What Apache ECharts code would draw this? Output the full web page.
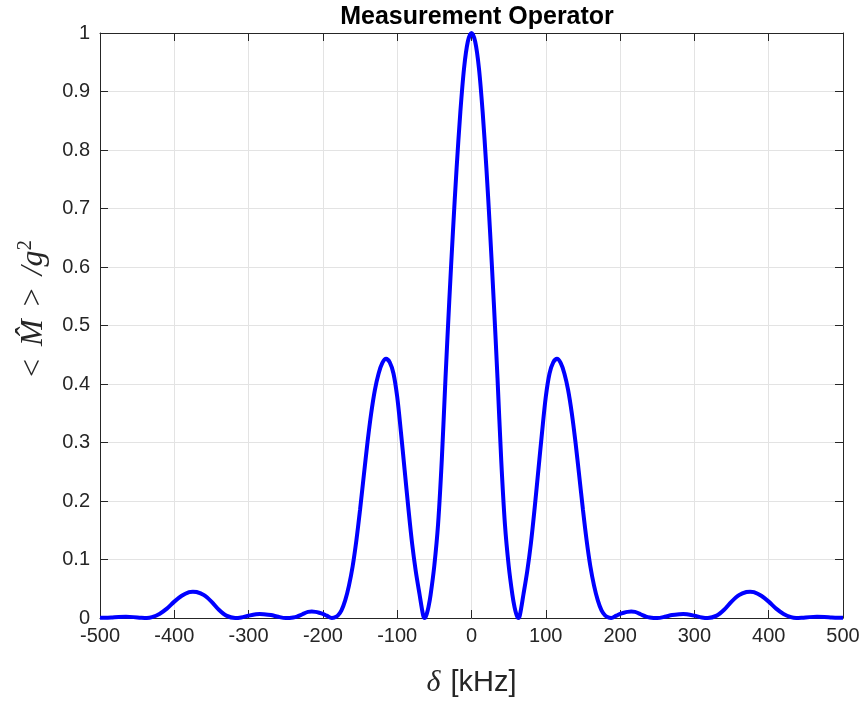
<!DOCTYPE html>
<html>
<head>
<meta charset="utf-8">
<script src="https://cdn.jsdelivr.net/npm/echarts@6/dist/echarts.min.js"></script>
<style>
  html, body { margin: 0; padding: 0; background: #fff; }
  #chart { width: 864px; height: 704px; }
</style>
</head>
<body>
<div id="chart"></div>
<script>
// detuning in kHz
const deltaKHz = [
  -500, -495, -485, -475, -465, -455, -445, -437, -430, -420, -410, -400, -390, -380, -375, -370,
  -360, -350, -340, -330, -318, -310, -300, -290, -285, -280, -270, -260, -250, -245, -240, -235,
  -230, -225, -220, -215, -210, -205, -200, -195, -188, -185, -180, -175, -170, -165, -160, -155,
  -150, -145, -140, -135, -130, -125, -120, -115, -110, -105, -100, -95, -90, -85, -80, -75,
  -70, -65, -63, -62, -60, -58, -55, -50, -45, -40, -35, -30, -25, -20, -15, -10, -5,
  0,
  5, 10, 15, 20, 25, 30, 35, 40, 45, 50, 55, 58, 60, 62, 63, 65,
  70, 75, 80, 85, 90, 95, 100, 105, 110, 115, 120, 125, 130, 135, 140, 145,
  150, 155, 160, 165, 170, 175, 180, 185, 188, 195, 200, 205, 210, 215, 220, 225,
  230, 235, 240, 245, 250, 260, 270, 280, 285, 290, 300, 310, 318, 330, 340, 350,
  360, 370, 375, 380, 390, 400, 410, 420, 430, 437, 445, 455, 465, 475, 485, 495, 500
];

// <M>/g^2
const response = [
  0.0004, 0.0005, 0.001, 0.0018, 0.002, 0.0015, 0.0005, 0, 0.0015, 0.007, 0.016, 0.028, 0.038, 0.0443, 0.045, 0.0445,
  0.039, 0.028, 0.014, 0.004, 0, 0.001, 0.004, 0.0065, 0.0068, 0.0065, 0.005, 0.002, 0, 0.0002, 0.001, 0.0025,
  0.005, 0.008, 0.0105, 0.011, 0.0105, 0.009, 0.007, 0.004, 0, 0.0005, 0.004, 0.013, 0.03, 0.055, 0.088, 0.132,
  0.185, 0.243, 0.3, 0.35, 0.39, 0.418, 0.436, 0.443, 0.437, 0.418, 0.378, 0.318, 0.253, 0.188, 0.128, 0.08,
  0.041, 0.004, 0, 0.001, 0.008, 0.018, 0.04, 0.09, 0.16, 0.27, 0.41, 0.54, 0.66, 0.77, 0.865, 0.94, 0.985,
  1.0,
  0.985, 0.94, 0.865, 0.77, 0.66, 0.54, 0.41, 0.27, 0.16, 0.09, 0.04, 0.018, 0.008, 0.001, 0, 0.004,
  0.041, 0.08, 0.128, 0.188, 0.253, 0.318, 0.378, 0.418, 0.437, 0.443, 0.436, 0.418, 0.39, 0.35, 0.3, 0.243,
  0.185, 0.132, 0.088, 0.055, 0.03, 0.013, 0.004, 0.0005, 0, 0.004, 0.007, 0.009, 0.0105, 0.011, 0.0105, 0.008,
  0.005, 0.0025, 0.001, 0.0002, 0, 0.002, 0.005, 0.0065, 0.0068, 0.0065, 0.004, 0.001, 0, 0.004, 0.014, 0.028,
  0.039, 0.0445, 0.045, 0.0443, 0.038, 0.028, 0.016, 0.007, 0.0015, 0, 0.0005, 0.0015, 0.002, 0.0018, 0.001, 0.0005, 0.0004
];

const xTicks = [-500, -400, -300, -200, -100, 0, 100, 200, 300, 400, 500];
const yTicks = [0, 0.1, 0.2, 0.3, 0.4, 0.5, 0.6, 0.7, 0.8, 0.9, 1];

const axisColor = '#262626';
const gridColor = '#e3e3e3';
const sans = 'Liberation Sans, Arial, sans-serif';
const serif = 'Liberation Serif, Times New Roman, serif';

const chart = echarts.init(document.getElementById('chart'));

const boxAxis = {
  type: 'value',
  axisLine: { show: true, onZero: false, lineStyle: { color: axisColor, width: 1 } },
  axisTick: { show: true, inside: true, length: 8, lineStyle: { color: axisColor } },
  axisLabel: { show: false },
  splitLine: { show: false }
};

chart.setOption({
  animation: false,
  title: {
    text: 'Measurement Operator',
    left: 472,
    top: 0,
    textAlign: 'center',
    textStyle: { fontFamily: sans, fontSize: 25, fontWeight: 'bold', color: '#000' }
  },
  grid: { left: 100, right: 21, top: 33, bottom: 86, containLabel: false },
  xAxis: [
    {
      type: 'value',
      min: xTicks[0],
      max: xTicks[xTicks.length - 1],
      interval: 100,
      axisLine: { show: true, onZero: false, lineStyle: { color: axisColor, width: 1 } },
      axisTick: { show: true, inside: true, length: 8, lineStyle: { color: axisColor } },
      axisLabel: { fontFamily: sans, fontSize: 20, color: axisColor, margin: 8 },
      splitLine: { show: true, lineStyle: { color: gridColor, width: 1 } },
      name: '{d|δ}{g| }{t|[kHz]}',
      nameLocation: 'middle',
      nameGap: 50,
      nameTextStyle: {
        rich: {
          d: { fontFamily: serif, fontStyle: 'italic', fontSize: 30, color: axisColor },
          g: { fontSize: 12, width: 10 },
          t: { fontFamily: sans, fontSize: 29, color: axisColor }
        }
      }
    },
    Object.assign({}, boxAxis, { position: 'top', min: -500, max: 500, interval: 100 })
  ],
  yAxis: [
    {
      type: 'value',
      min: yTicks[0],
      max: yTicks[yTicks.length - 1],
      interval: 0.1,
      axisLine: { show: true, onZero: false, lineStyle: { color: axisColor, width: 1 } },
      axisTick: { show: true, inside: true, length: 8, lineStyle: { color: axisColor } },
      axisLabel: {
        fontFamily: sans, fontSize: 20, color: axisColor, margin: 10,
        formatter: v => String(Math.round(v * 10) / 10)
      },
      splitLine: { show: true, lineStyle: { color: gridColor, width: 1 } },
      name: '{p| }{a|<}{g| }{m|M̂}{g| }{a|>}{g| }{m|/g}{s|2}',
      nameLocation: 'middle',
      nameRotate: 90,
      nameGap: 48,
      nameTextStyle: {
        rich: {
          p: { fontSize: 12, width: 34 },
          g: { fontSize: 12, width: 13 },
          a: { fontFamily: serif, fontSize: 32, color: axisColor },
          m: { fontFamily: serif, fontStyle: 'italic', fontSize: 32, color: axisColor },
          s: { fontFamily: serif, fontSize: 21, color: axisColor, padding: [0, 0, 16, 0] }
        }
      }
    },
    Object.assign({}, boxAxis, { position: 'right', min: 0, max: 1, interval: 0.1 })
  ],
  series: [
    {
      type: 'line',
      data: deltaKHz.map((d, i) => [d, response[i]]),
      showSymbol: false,
      smooth: 0.3,
      lineStyle: { color: '#0000ff', width: 4 },
      itemStyle: { color: '#0000ff' },
      z: 5
    }
  ]
});
</script>
</body>
</html>
